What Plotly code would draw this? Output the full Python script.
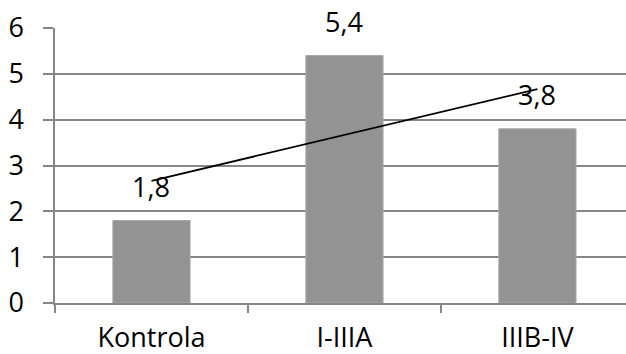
import numpy as np
import plotly.graph_objects as go

categories = ["Kontrola", "I-IIIA", "IIIB-IV"]
values = [1.8, 5.4, 3.8]
y_ticks = [0, 1, 2, 3, 4, 5, 6]

FONT = "Open Sans"
GRID = "#878787"
SIZE = 27

# linear trend over the category positions
xs = np.arange(len(values))
slope, intercept = np.polyfit(xs, values, 1)
trend = [intercept + slope * x for x in xs]

fig = go.Figure()
fig.add_trace(go.Bar(
    x=categories, y=values,
    marker=dict(color="#939393", line=dict(color="#a8a8a8", width=1)),
    showlegend=False,
))
fig.add_trace(go.Scatter(
    x=categories, y=trend, mode="lines",
    line=dict(color="black", width=1.8),
    showlegend=False,
))

for c, v in zip(categories, values):
    fig.add_annotation(
        x=c, y=v, text=f"{v:.1f}".replace(".", ","),
        showarrow=False, yanchor="bottom", yshift=14,
        font=dict(family=FONT, size=SIZE, color="black"),
    )

fig.update_layout(
    width=626, height=354,
    margin=dict(l=55, r=0, t=28, b=51),
    paper_bgcolor="white", plot_bgcolor="white",
    bargap=0.6,
    font=dict(family=FONT, size=SIZE, color="black"),
    xaxis=dict(
        type="category", range=[-0.5, 2.459],
        showline=True, linecolor=GRID, linewidth=1.5,
        ticks="outside", tickson="boundaries", ticklen=8,
        tickcolor=GRID, tickwidth=1.5,
        showgrid=False, ticklabelstandoff=10, automargin=False,
        tickfont=dict(family=FONT, size=SIZE, color="black"),
    ),
    yaxis=dict(
        range=[0, 6], tickvals=y_ticks,
        showline=True, linecolor=GRID, linewidth=1.5,
        ticks="outside", ticklen=10, tickcolor=GRID, tickwidth=1.5,
        showgrid=True, gridcolor=GRID, gridwidth=1.5,
        zeroline=False, ticklabelstandoff=14, automargin=False,
        tickfont=dict(family=FONT, size=SIZE, color="black"),
    ),
)

fig.write_html("out.html")
